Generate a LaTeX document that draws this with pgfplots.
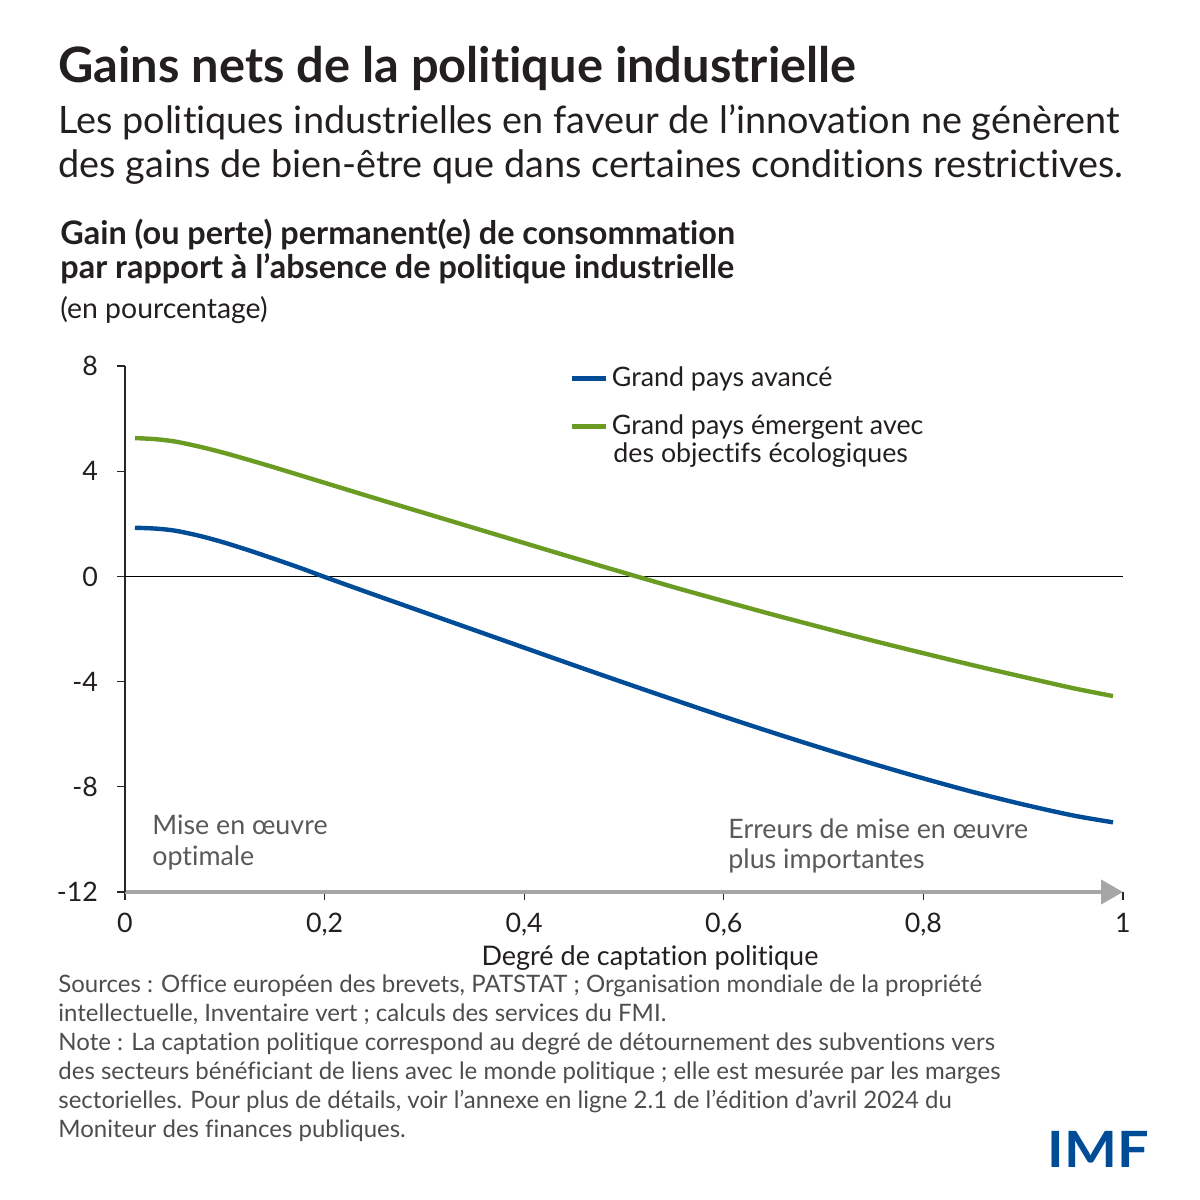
\documentclass[border=0pt]{standalone}
\usepackage{fontspec}
\setmainfont{Lato}[Ligatures=NoCommon]
\usepackage{pgfplots}
\pgfplotsset{compat=1.18}
\usetikzlibrary{arrows.meta}
\definecolor{imfblue}{HTML}{004C97}
\definecolor{imfgreen}{HTML}{6A9B23}
\definecolor{txt}{HTML}{231F20}
\definecolor{annot}{HTML}{595959}
\definecolor{foot}{HTML}{4D4D4D}
\definecolor{axgray}{HTML}{A6A6A6}

\pgfplotstableread{
x y
0.01 1.85
0.03 1.82
0.05 1.74
0.075 1.54
0.10 1.28
0.125 0.98
0.15 0.66
0.175 0.33
0.20 -0.02
0.25 -0.70
0.30 -1.37
0.35 -2.04
0.40 -2.71
0.45 -3.38
0.50 -4.04
0.55 -4.69
0.60 -5.33
0.65 -5.95
0.70 -6.55
0.75 -7.13
0.80 -7.68
0.85 -8.20
0.90 -8.67
0.95 -9.09
0.99 -9.35
}\advanced

\pgfplotstableread{
x y
0.01 5.26
0.03 5.22
0.05 5.13
0.075 4.93
0.10 4.69
0.125 4.42
0.15 4.14
0.20 3.56
0.25 2.98
0.30 2.41
0.35 1.84
0.40 1.27
0.45 0.70
0.50 0.14
0.55 -0.41
0.60 -0.94
0.65 -1.46
0.70 -1.96
0.75 -2.45
0.80 -2.92
0.85 -3.38
0.90 -3.82
0.95 -4.25
0.99 -4.55
}\emerging

\begin{document}
\begin{tikzpicture}
\begin{scope}[x=0.5pt,y=-0.5pt]
\path[use as bounding box] (0,0) rectangle (1200,1200);

% Title and subtitle
\node[anchor=base west, inner sep=0, text=txt, font=\fontsize{24.4}{28}\selectfont\bfseries] at (58,82) {Gains nets de la politique industrielle};
\node[anchor=base west, inner sep=0, text=txt, font=\fontsize{18.9}{22}\selectfont] at (58,133) {Les politiques industrielles en faveur de l’innovation ne génèrent};
\node[anchor=base west, inner sep=0, text=txt, font=\fontsize{18.9}{22}\selectfont] at (58,177) {des gains de bien-être que dans certaines conditions restrictives.};

% Y axis title
\node[anchor=base west, inner sep=0, text=txt, font=\fontsize{16.2}{19}\selectfont\bfseries] at (60,244) {Gain (ou perte) permanent(e) de consommation};
\node[anchor=base west, inner sep=0, text=txt, font=\fontsize{16.2}{19}\selectfont\bfseries] at (60,278) {par rapport à l’absence de politique industrielle};
\node[anchor=base west, inner sep=0, text=txt, font=\fontsize{14.2}{17}\selectfont] at (60,318) {(en pourcentage)};

\node[anchor=base west, inner sep=0, text=txt, font=\fontsize{13.4}{16}\selectfont] at (613,462) {des objectifs écologiques};

% Annotations
\node[anchor=base west, inner sep=0, text=annot, font=\fontsize{13.4}{16}\selectfont] at (152,834) {Mise en œuvre};
\node[anchor=base west, inner sep=0, text=annot, font=\fontsize{13.4}{16}\selectfont] at (152,865) {optimale};
\node[anchor=base west, inner sep=0, text=annot, font=\fontsize{13.4}{16}\selectfont] at (728,838) {Erreurs de mise en œuvre};
\node[anchor=base west, inner sep=0, text=annot, font=\fontsize{13.4}{16}\selectfont] at (728,868) {plus importantes};

% X axis label
\node[anchor=base, inner sep=0, text=txt, font=\fontsize{13.5}{16}\selectfont] at (650,965) {Degré de captation politique};

% Footnotes
\begin{scope}[every node/.style={anchor=base west, inner sep=0, text=foot, font=\fontsize{12}{14}\selectfont}]
\node at (58,992) {Sources : Office européen des brevets, PATSTAT ; Organisation mondiale de la propriété};
\node at (58,1021) {intellectuelle, Inventaire vert ; calculs des services du FMI.};
\node at (58,1050) {Note : La captation politique correspond au degré de détournement des subventions vers};
\node at (58,1079) {des secteurs bénéficiant de liens avec le monde politique ; elle est mesurée par les marges};
\node at (58,1108) {sectorielles. Pour plus de détails, voir l’annexe en ligne 2.1 de l’édition d’avril 2024 du};
\node at (58,1137) {Moniteur des finances publiques.};
\end{scope}

% Logo
\node[anchor=base west, inner sep=0, text=imfblue, font=\fontsize{25}{25}\selectfont\bfseries, xscale=1.12] at (1047,1167) {IMF};
\end{scope}

\begin{axis}[
  at={(62.5pt,-446pt)}, anchor=south west,
  scale only axis, width=499pt, height=263pt,
  xmin=0, xmax=1, ymin=-12, ymax=8,
  enlargelimits=false,
  axis lines=left,
  x axis line style={draw=axgray, line width=2pt, -{Triangle[length=11pt,width=12pt]}},
  y axis line style={draw=black!85, line width=0.6pt, -},
  xtick={0,0.2,0.4,0.6,0.8,1},
  ytick={-12,-8,-4,0,4,8},
  tick align=outside,
  major tick length=4pt,
  tick style={draw=black!85, line width=0.6pt},
  /pgf/number format/assume math mode=true,
  /pgf/number format/use comma,
  ticklabel style={text=txt, font=\fontsize{13.4}{16}\selectfont},
  yticklabel style={xshift=-6pt},
  xticklabel style={yshift=-3pt},
  legend style={at={(0.445,1.006)}, anchor=north west, draw=none, fill=none,
    inner sep=0pt, font=\fontsize{13.4}{16}\selectfont, text=txt, row sep=8.5pt},
  legend cell align=left,
  legend image code/.code={\draw[#1, line width=2.2pt] (0pt,0pt) -- (17pt,0pt);},
]
\draw[black, line width=0.6pt] (axis cs:0,0) -- (axis cs:1,0);
\addplot[imfblue, line width=2.2pt, smooth, no markers] table[x=x,y=y] {\advanced};
\addlegendentry{Grand pays avancé}
\addplot[imfgreen, line width=2.2pt, smooth, no markers] table[x=x,y=y] {\emerging};
\addlegendentry{Grand pays émergent avec}
\end{axis}
\end{tikzpicture}
\end{document}
